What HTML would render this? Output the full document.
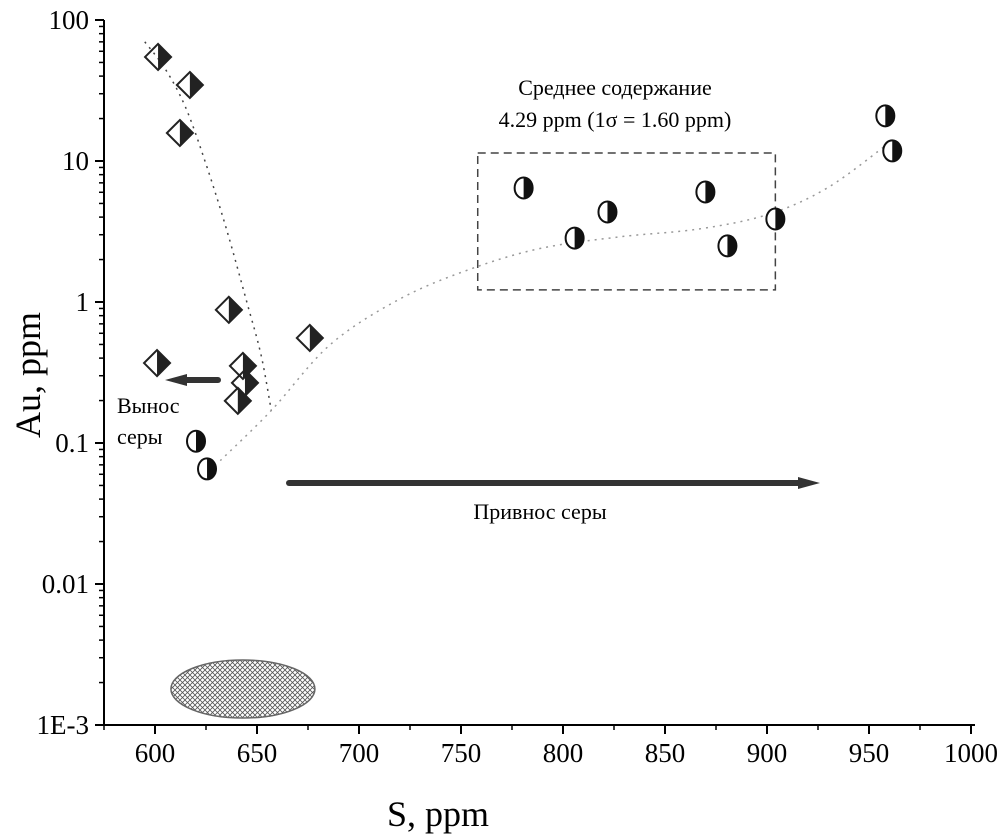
<!DOCTYPE html>
<html><head><meta charset="utf-8"><style>
html,body{margin:0;padding:0;background:#fff;}
svg{display:block;font-family:"Liberation Serif","Noto Serif CJK SC",serif;}
</style></head><body>
<svg id="chart" width="1007" height="839" viewBox="0 0 1007 839" xmlns="http://www.w3.org/2000/svg">
<defs>
<pattern id="hatch" width="5" height="5" patternUnits="userSpaceOnUse">
<path d="M0 0L5 5M5 0L0 5" stroke="#555" stroke-width="0.8"/>
</pattern>
</defs>
<g id="axes"></g>
<g id="marks"></g>
</svg>
<script>
const xTicks = [600, 650, 700, 750, 800, 850, 900, 950, 1000];
const yTicks = [100, 10, 1, 0.1, 0.01, 0.001];
const yTickLabels = ["100", "10", "1", "0.1", "0.01", "1E-3"];
const diamondS = [601.5, 617.1, 612.2, 636.2, 675.9, 601, 643.1, 644.1, 640.6];
const diamondAu = [54.7, 34.6, 15.8, 0.88, 0.556, 0.369, 0.352, 0.267, 0.199];
const circleS = [620.1, 625.5, 780.7, 805.7, 821.8, 869.8, 880.6, 904.1, 958, 961.4];
const circleAu = [0.103, 0.0655, 6.44, 2.84, 4.35, 6.03, 2.50, 3.88, 20.9, 11.8];
const trend1S = [595, 605, 615, 625, 635, 645, 652, 657];
const trend1Au = [70, 45, 24, 9.5, 3.3, 1.0, 0.42, 0.17];
const trend2S = [632, 657, 686, 720, 754, 789, 828, 867, 901, 930, 960];
const trend2Au = [0.075, 0.17, 0.5, 1.05, 1.7, 2.4, 2.9, 3.3, 4.2, 6.5, 13.5];
const boxS = [758.2, 904.1];
const boxAu = [1.22, 11.4];
const ellipseS = [643.1];
const ellipseAu = [0.0018];

const NS = "http://www.w3.org/2000/svg";
const X0 = 155, XPX = 102/50;
const Y0 = 20, DEC = 141;
function sx(v){ return X0 + (v-600)*XPX; }
function sy(v){ return Y0 + (2 - Math.log10(v))*DEC; }
function mk(tag, attrs, parent){
  const e = document.createElementNS(NS, tag);
  for (const k in attrs) e.setAttribute(k, attrs[k]);
  parent.appendChild(e); return e;
}
const axes = document.getElementById('axes');
const marks = document.getElementById('marks');
const AXL = 104, AXB = 725;

let yl = mk('line', {x1:AXL, y1:Y0, x2:AXL, y2:AXB, stroke:'#000', 'stroke-width':2}, axes);


let xl = mk('line', {x1:AXL, y1:AXB, x2:975, y2:AXB, stroke:'#000', 'stroke-width':2}, axes);



for (let i = 0; i < xTicks.length; i++) {
  const v = xTicks[i], x = sx(v);
  const t = mk('line', {x1:x, y1:AXB, x2:x, y2:AXB+9, stroke:'#000', 'stroke-width':2}, axes);
  
  
  const lb = mk('text', {x:x, y:AXB+37, 'text-anchor':'middle', 'font-size':27}, axes);
  lb.textContent = String(v);
  
  
}
for (let v = 575; v <= 975; v += 50) {
  const x = sx(v);
  const t = mk('line', {x1:x, y1:AXB, x2:x, y2:AXB+5, stroke:'#000', 'stroke-width':1.5}, axes);
  
  
}
for (let i = 0; i < yTicks.length; i++) {
  const y = sy(yTicks[i]);
  const t = mk('line', {x1:AXL, y1:y, x2:AXL-9, y2:y, stroke:'#000', 'stroke-width':2}, axes);
  
  
  const lb = mk('text', {x:AXL-15, y:y+9, 'text-anchor':'end', 'font-size':27}, axes);
  lb.textContent = yTickLabels[i];
  
  
  if (i < yTicks.length-1) {
    for (let m = 2; m <= 9; m++) {
      const yy = sy(yTicks[i+1]*m);
      const mt = mk('line', {x1:AXL, y1:yy, x2:AXL-5, y2:yy, stroke:'#000', 'stroke-width':1.5}, axes);
      
      
    }
  }
}
let xt = mk('text', {x:438, y:826, 'text-anchor':'middle', 'font-size':36}, axes);
xt.textContent = 'S, ppm';


let yt = mk('text', {x:0, y:0, 'text-anchor':'middle', 'font-size':36, transform:'translate(40,375) rotate(-90)'}, axes);
yt.textContent = 'Au, ppm';



let el = mk('ellipse', {cx:sx(ellipseS[0]), cy:sy(ellipseAu[0]), rx:72, ry:29, fill:'url(#hatch)', stroke:'#666', 'stroke-width':1.5}, marks);



let bx = mk('rect', {x:sx(boxS[0]), y:sy(boxAu[1]), width:sx(boxS[1])-sx(boxS[0]), height:sy(boxAu[0])-sy(boxAu[1]), fill:'none', stroke:'#444', 'stroke-width':1.5, 'stroke-dasharray':'8,5'}, marks);



function curve(xs, ys){
  const p = xs.map((v,i)=>[sx(v), sy(ys[i])]);
  let d = 'M'+p[0][0]+' '+p[0][1];
  for (let i=1;i<p.length;i++){
    const p0=p[i-2]||p[i-1], p1=p[i-1], p2=p[i], p3=p[i+1]||p2;
    d += ' C'+(p1[0]+(p2[0]-p0[0])/6)+' '+(p1[1]+(p2[1]-p0[1])/6)+' '+(p2[0]-(p3[0]-p1[0])/6)+' '+(p2[1]-(p3[1]-p1[1])/6)+' '+p2[0]+' '+p2[1];
  }
  return d;
}
let t1 = mk('path', {d:curve(trend1S, trend1Au), fill:'none', stroke:'#444', 'stroke-width':1.5, 'stroke-dasharray':'2,5'}, marks);


let t2 = mk('path', {d:curve(trend2S, trend2Au), fill:'none', stroke:'#999', 'stroke-width':1.5, 'stroke-dasharray':'2,5'}, marks);



function arrow(x1, x2, y, w, name){
  const g = mk('g', {}, marks);
  
  
  const dir = Math.sign(x2-x1);
  mk('line', {x1:x1, y1:y, x2:x2-dir*16, y2:y, stroke:'#333', 'stroke-width':w, 'stroke-linecap':'round'}, g);
  mk('polygon', {points:(x2)+','+y+' '+(x2-dir*22)+','+(y-6)+' '+(x2-dir*22)+','+(y+6), fill:'#333'}, g);
}
arrow(218, 165, 380, 6, 'removal-arrow');
arrow(289, 820, 483, 6, 'addition-arrow');

for (let i = 0; i < diamondS.length; i++) {
  const x = sx(diamondS[i]), y = sy(diamondAu[i]), r = 13;
  const g = mk('g', {}, marks);
  
  
  mk('polygon', {points:`${x},${y-r} ${x+r},${y} ${x},${y+r}`, fill:'#222'}, g);
  mk('polygon', {points:`${x},${y-r} ${x+r},${y} ${x},${y+r} ${x-r},${y}`, fill:'none', stroke:'#222', 'stroke-width':2}, g);
}
for (let i = 0; i < circleS.length; i++) {
  const x = sx(circleS[i]), y = sy(circleAu[i]), rx = 9, ry = 10.5;
  const g = mk('g', {}, marks);
  
  
  mk('ellipse', {cx:x, cy:y, rx:rx, ry:ry, fill:'#fff', stroke:'#111', 'stroke-width':2}, g);
  mk('path', {d:`M${x} ${y-ry} A${rx} ${ry} 0 0 1 ${x} ${y+ry} Z`, fill:'#111'}, g);
}

function txt(s, x, y, size, anchor, name){
  const t = mk('text', {x:x, y:y, 'font-size':size, 'text-anchor':anchor}, marks);
  t.textContent = s;
  
  
}
txt('Среднее содержание', 615, 95, 22, 'middle', 'average-label');
txt('4.29 ppm (1σ = 1.60 ppm)', 615, 127, 22, 'middle', 'average-value-label');
txt('Вынос', 117, 413, 22, 'start', 'removal-label-1');
txt('серы', 117, 444, 22, 'start', 'removal-label-2');
txt('Привнос серы', 540, 519, 22, 'middle', 'addition-label');
</script>
</body></html>
